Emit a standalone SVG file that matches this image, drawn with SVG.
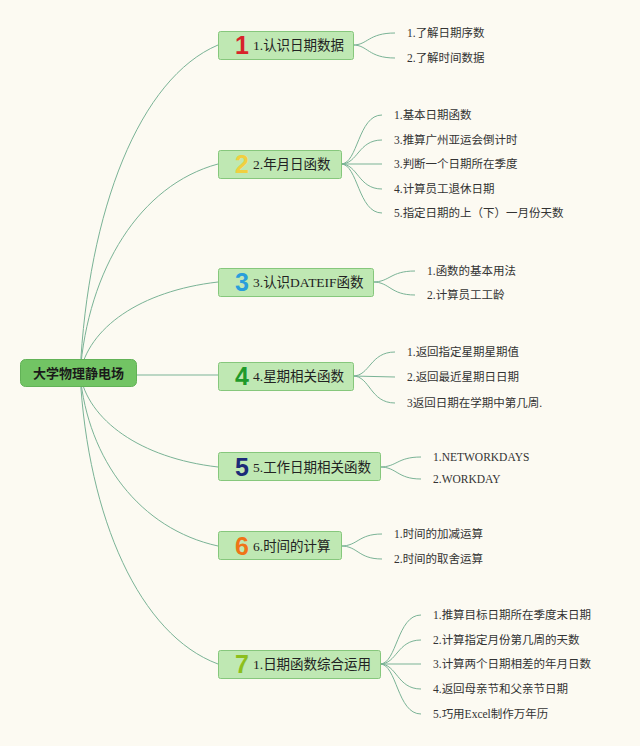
<svg xmlns="http://www.w3.org/2000/svg" width="640" height="746" viewBox="0 0 640 746">
<style>
.bg{fill:#fcfaf2}
.ln{fill:none;stroke:#7ab396;stroke-width:1}
.root rect{fill:#72c464;stroke:#62b257;stroke-width:1}
.root text{font-family:"Liberation Sans","Noto Sans CJK SC",sans-serif;font-weight:bold;font-size:13px;fill:#1a1a1a}
.br rect{fill:#bfe8b3;stroke:#86c77c;stroke-width:1}
.br .t{font-family:"Liberation Serif","Noto Sans CJK SC",sans-serif;font-size:13.5px;fill:#222}
.br .ic{font-family:"Liberation Sans",sans-serif;font-weight:900;font-size:25px}
.lf{font-family:"Liberation Serif","Noto Sans CJK SC",serif;font-size:11.5px;fill:#333}
</style>
<rect class="bg" x="0" y="0" width="640" height="746"/>
<g id="connectors">
<path class="ln" d="M80,374 C88,209 140,78 218,45"/>
<path class="ln" d="M80,374 C88,269 140,185 218,164"/>
<path class="ln" d="M80,374 C88,328 140,291 218,282"/>
<path class="ln" d="M80,375 L218,375"/>
<path class="ln" d="M80,374 C88,420 140,458 218,467"/>
<path class="ln" d="M80,374 C88,460 140,529 218,546"/>
<path class="ln" d="M80,374 C88,519 140,635 218,664"/>
<path class="ln" d="M353,45 C368,45 368,33 395,33 M353,45 C368,45 368,58 395,58"/>
<path class="ln" d="M341,164 C358,164 358,115 382,115 M341,164 C358,164 358,140 382,140 M341,164 L382,164 M341,164 C358,164 358,189 382,189 M341,164 C358,164 358,213 382,213"/>
<path class="ln" d="M373,282 C390,282 390,271 415,271 M373,282 C390,282 390,295 415,295"/>
<path class="ln" d="M353,376 C370,376 370,352 395,352 M353,376 L395,377 M353,376 C370,376 370,403 395,403"/>
<path class="ln" d="M380,467 C397,467 397,457 421,457 M380,467 C397,467 397,479 421,479"/>
<path class="ln" d="M341,546 C358,546 358,534 382,534 M341,546 C358,546 358,559 382,559"/>
<path class="ln" d="M380,664 C397,664 397,615 421,615 M380,664 C397,664 397,640 421,640 M380,664 L421,664 M380,664 C397,664 397,689 421,689 M380,664 C397,664 397,714 421,714"/>
</g>
<g id="root" class="root">
<rect x="20.5" y="359.5" width="116" height="27" rx="5"/>
<text x="78.5" y="378" text-anchor="middle">大学物理静电场</text>
</g>
<g id="n1" class="br">
<rect x="218.5" y="31.5" width="135" height="28" rx="2"/>
<text class="ic" x="242" y="54" text-anchor="middle" fill="#d8232a">1</text>
<text class="t" x="253" y="50">1.认识日期数据</text>
</g>
<g id="n2" class="br">
<rect x="218.5" y="150.5" width="123" height="28" rx="2"/>
<text class="ic" x="242" y="173" text-anchor="middle" fill="#f0d040">2</text>
<text class="t" x="253" y="169">2.年月日函数</text>
</g>
<g id="n3" class="br">
<rect x="218.5" y="268.5" width="155" height="28" rx="2"/>
<text class="ic" x="242" y="291" text-anchor="middle" fill="#2a9edb">3</text>
<text class="t" x="253" y="287">3.认识DATEIF函数</text>
</g>
<g id="n4" class="br">
<rect x="218.5" y="362.5" width="135" height="28" rx="2"/>
<text class="ic" x="242" y="385" text-anchor="middle" fill="#1f9a2a">4</text>
<text class="t" x="253" y="381">4.星期相关函数</text>
</g>
<g id="n5" class="br">
<rect x="218.5" y="452.5" width="162" height="28" rx="2"/>
<text class="ic" x="242" y="476" text-anchor="middle" fill="#1c2a78">5</text>
<text class="t" x="253" y="472">5.工作日期相关函数</text>
</g>
<g id="n6" class="br">
<rect x="218.5" y="531.5" width="123" height="28" rx="2"/>
<text class="ic" x="242" y="555" text-anchor="middle" fill="#f07418">6</text>
<text class="t" x="253" y="551">6.时间的计算</text>
</g>
<g id="n7" class="br">
<rect x="218.5" y="650.5" width="162" height="28" rx="2"/>
<text class="ic" x="242" y="673" text-anchor="middle" fill="#8cbf1c">7</text>
<text class="t" x="253" y="669">1.日期函数综合运用</text>
</g>
<g id="leaves1">
<text class="lf" x="407" y="37">1.了解日期序数</text>
<text class="lf" x="407" y="62">2.了解时间数据</text>
</g>
<g id="leaves2">
<text class="lf" x="394" y="119">1.基本日期函数</text>
<text class="lf" x="394" y="144">3.推算广州亚运会倒计时</text>
<text class="lf" x="394" y="168">3.判断一个日期所在季度</text>
<text class="lf" x="394" y="193">4.计算员工退休日期</text>
<text class="lf" x="394" y="217">5.指定日期的上（下）一月份天数</text>
</g>
<g id="leaves3">
<text class="lf" x="427" y="275">1.函数的基本用法</text>
<text class="lf" x="427" y="299">2.计算员工工龄</text>
</g>
<g id="leaves4">
<text class="lf" x="407" y="356">1.返回指定星期星期值</text>
<text class="lf" x="407" y="381">2.返回最近星期日日期</text>
<text class="lf" x="407" y="407">3返回日期在学期中第几周.</text>
</g>
<g id="leaves5">
<text class="lf" x="433" y="461">1.NETWORKDAYS</text>
<text class="lf" x="433" y="483">2.WORKDAY</text>
</g>
<g id="leaves6">
<text class="lf" x="394" y="538">1.时间的加减运算</text>
<text class="lf" x="394" y="563">2.时间的取舍运算</text>
</g>
<g id="leaves7">
<text class="lf" x="433" y="619">1.推算目标日期所在季度末日期</text>
<text class="lf" x="433" y="644">2.计算指定月份第几周的天数</text>
<text class="lf" x="433" y="668">3.计算两个日期相差的年月日数</text>
<text class="lf" x="433" y="693">4.返回母亲节和父亲节日期</text>
<text class="lf" x="433" y="718">5.巧用Excel制作万年历</text>
</g>
</svg>
